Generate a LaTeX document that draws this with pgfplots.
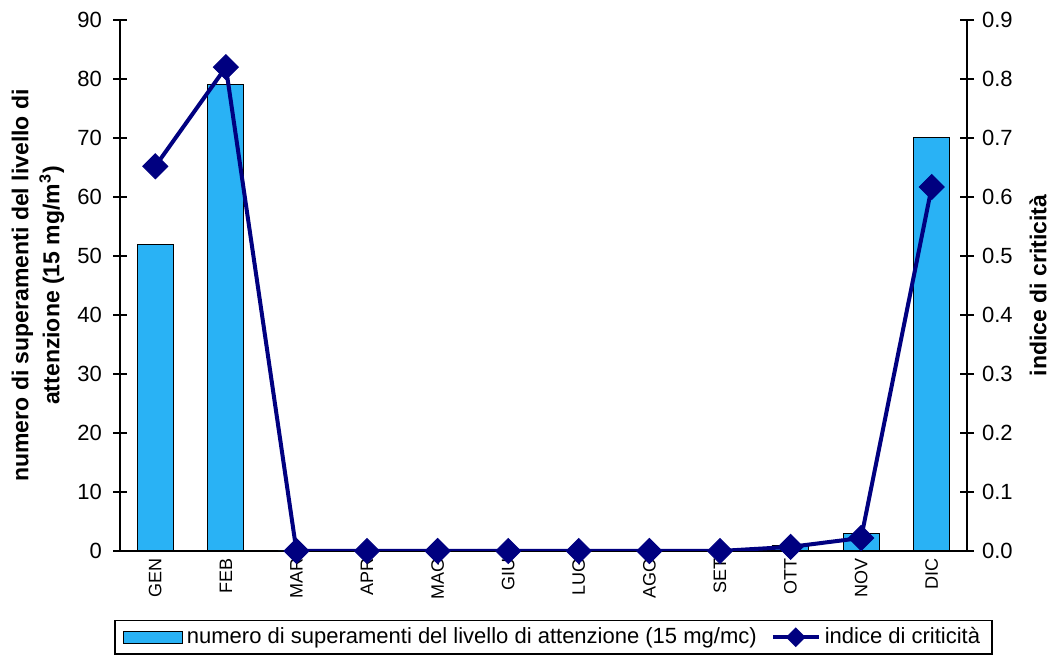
\documentclass[border=0pt]{standalone}
\usepackage{pgfplots}
\pgfplotsset{compat=1.18}
\usepackage{fontspec}
\setmainfont{Liberation Sans}
\definecolor{barblue}{RGB}{41,178,245}
\definecolor{navy}{RGB}{0,0,128}

\begin{document}
\begin{tikzpicture}
\pgfplotsset{
  common/.style={
    scale only axis,
    width=423.5pt, height=265.5pt,
    xmin=-0.5, xmax=11.5,
    /pgf/number format/assume math mode=true,
    tick style={black, line width=0.6pt},
    axis line style={black, line width=0.7pt},
  }
}
% bars: number of exceedances, left axis
\begin{axis}[
  common,
  axis y line*=left,
  axis x line*=bottom,
  ymin=0, ymax=90, ytick={0,10,...,90},
  tick align=center,
  major tick length=7pt,
  xtick={0,...,11},
  xticklabels={GEN,FEB,MAR,APR,MAG,GIU,LUG,AGO,SET,OTT,NOV,DIC},
  xtick style={draw=none},
  minor xtick={-0.5,0.5,...,11.5},
  minor x tick style={black, line width=0.6pt, yshift=-2pt},
  minor tick length=4pt,
  xticklabel style={rotate=90, anchor=east, font=\fontsize{9}{10}\selectfont, xshift=3.5pt},
  yticklabel style={font=\fontsize{11}{13}\selectfont, xshift=-2pt},
  ylabel={numero di superamenti del livello di\\attenzione (15 mg/m\textsuperscript{3})},
  ylabel style={font=\fontsize{11.5}{15.5}\selectfont\bfseries, align=center,
    at={(axis description cs:-0.0968,0.5)}, anchor=center},
]
\addplot[ybar, bar width=18pt, fill=barblue, draw=black, line width=0.5pt]
  coordinates {(0,52) (1,79) (2,0) (3,0) (4,0) (5,0) (6,0) (7,0) (8,0) (9,1) (10,3) (11,70)};
\coordinate (SW) at (rel axis cs:0,0);
\coordinate (NE) at (rel axis cs:1,1);
\end{axis}
% line: criticality index, right axis
\begin{axis}[
  common,
  axis y line*=right,
  axis x line=none,
  ymin=0, ymax=0.9, ytick={0,0.1,...,0.9},
  tick align=center,
  major tick length=7pt,
  yticklabel style={font=\fontsize{11}{13}\selectfont, xshift=0.5pt,
    /pgf/number format/.cd, fixed, fixed zerofill, precision=1},
  ylabel={indice di criticità},
  ylabel style={font=\fontsize{11.5}{13}\selectfont\bfseries,
    at={(axis description cs:1.0838,0.5)}, anchor=center},
  legend style={at={(rel axis cs:0.5,0)}, anchor=north, xshift=5pt, yshift=-34.5pt,
    draw=black, line width=0.7pt, font=\fontsize{11}{13}\selectfont,
    inner xsep=4pt, inner ysep=1.5pt,
    /tikz/every even column/.append style={column sep=5pt}},
  legend columns=2,
  legend cell align=left,
]
\addlegendimage{legend image code/.code={
  \draw[fill=barblue, draw=black, line width=0.5pt] (0pt,-3pt) rectangle (29.5pt,3pt);}}
\addlegendentry{numero di superamenti del livello di attenzione (15 mg/mc)}
\addplot[navy, line width=2pt, mark=square*, mark size=4.4pt,
  mark options={rotate=45, fill=navy, draw=navy, line width=0.5pt},
  legend image code/.code={
    \draw[navy, line width=2pt] (0pt,0pt) -- (23pt,0pt);
    \fill[navy] (11.5pt,0pt) +(0,3.5pt) -- +(3.5pt,0) -- +(0,-3.5pt) -- +(-3.5pt,0) -- cycle;}]
  coordinates {(0,0.652) (1,0.82) (2,0) (3,0) (4,0) (5,0) (6,0) (7,0) (8,0) (9,0.007) (10,0.022) (11,0.617)};
\addlegendentry{indice di criticità}
\end{axis}
\pgfresetboundingbox
\path[use as bounding box] ([shift={(-60pt,-53pt)}]SW) rectangle ([shift={(44pt,10pt)}]NE);
\end{tikzpicture}
\end{document}
